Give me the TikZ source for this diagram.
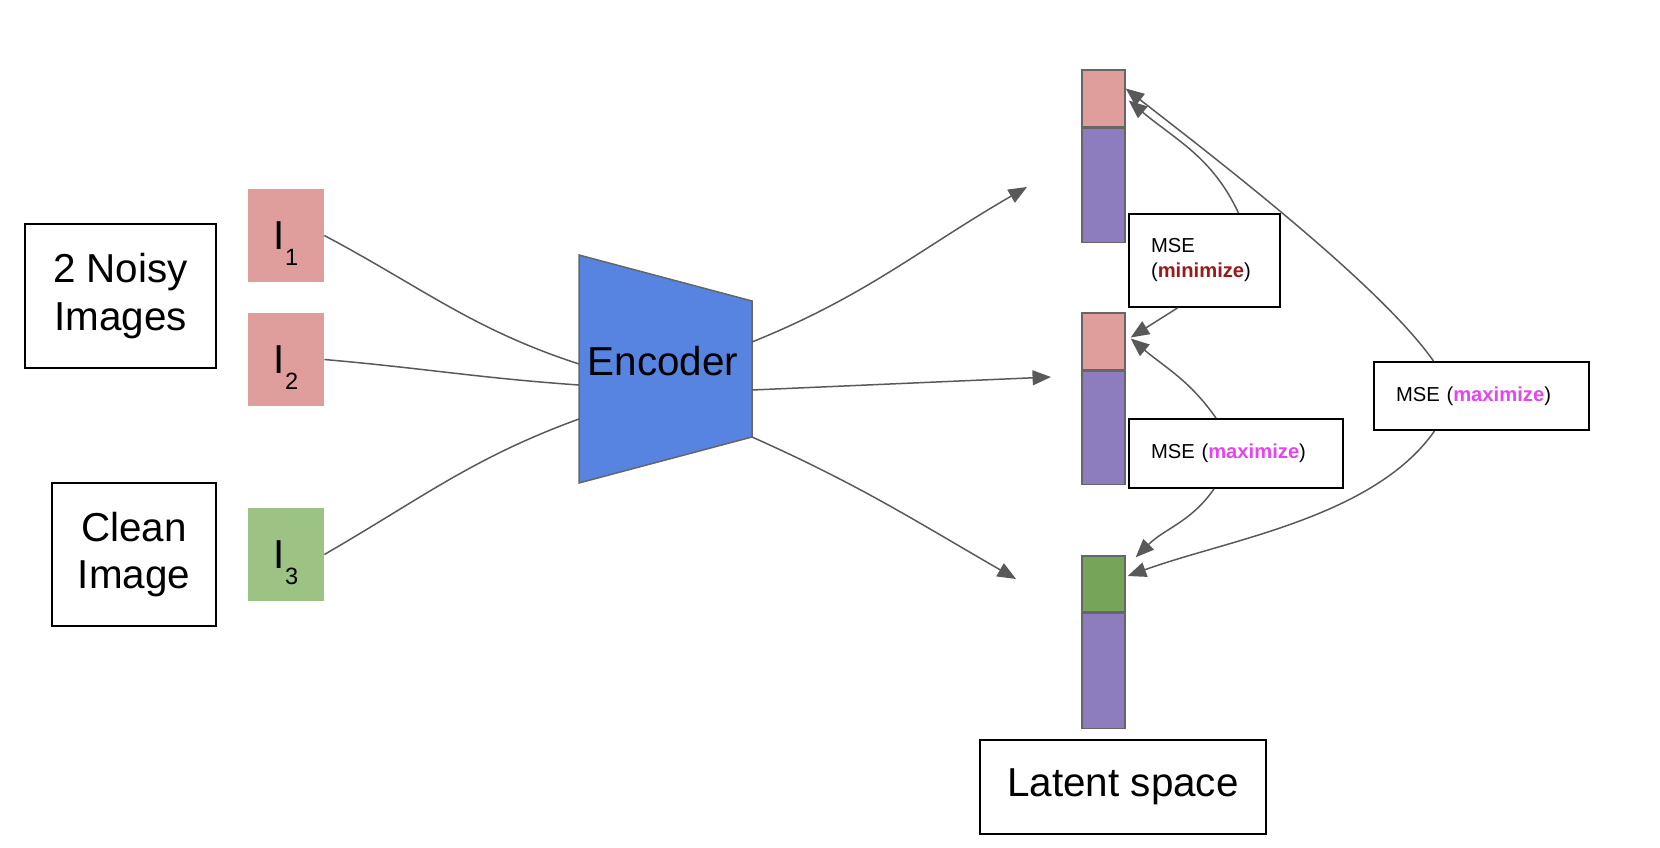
\documentclass[tikz,border=0pt]{standalone}
\usepackage{fontspec}
\setmainfont{Liberation Sans}
\usepackage{xcolor}
\usetikzlibrary{positioning, arrows.meta, calc}

\definecolor{imgred}{HTML}{DF9D9B}
\definecolor{imggreen}{HTML}{9DC384}
\definecolor{vecgreen}{HTML}{76A559}
\definecolor{vecpurple}{HTML}{8E7DBE}
\definecolor{encblue}{HTML}{5684E0}
\definecolor{linegray}{HTML}{595959}
\definecolor{bordergray}{HTML}{666666}
\definecolor{minred}{HTML}{9A1A1A}
\definecolor{maxpink}{HTML}{E644F0}

\begin{document}
\begin{tikzpicture}[
	x=0.02cm, y=-0.02cm,
	bigfont/.style={font=\fontsize{23}{27.2}\selectfont},
	titlebox/.style={draw, line width=1.1pt, align=center, inner sep=0pt, bigfont},
	imgbox/.style={minimum width=1.52cm, minimum height=1.86cm, inner sep=0pt, text height=25pt, text depth=9.6pt, bigfont},
	vecpart/.style={draw=bordergray, line width=0.8pt, minimum width=0.86cm, inner sep=0pt},
	msebox/.style={draw, line width=1.1pt, fill=white, align=left, inner xsep=0.44cm, inner ysep=0pt, font=\fontsize{11.5}{14.2}\selectfont},
	encoder/.style={draw=bordergray, fill=encblue, line width=0.85pt},
	edge/.style={draw=linegray, line width=0.85pt},
	arrowedge/.style={edge, -{Triangle[length=10.5pt, width=8.5pt]}}
	]
	\useasboundingbox (0,0) rectangle (1660,848);
	
	% Define nodes
	\node (noisy) [titlebox, minimum width=3.82cm, minimum height=2.88cm] at (120.5,296) {2 Noisy\\Images};
	\node (clean) [titlebox, minimum width=3.28cm, minimum height=2.86cm] at (134,554.5) {Clean\\Image};
	\node (I1) [imgbox, fill=imgred] at (286,235.5) {I\raisebox{-9.6pt}{\fontsize{13.4}{14}\selectfont 1}};
	\node (I2) [imgbox, fill=imgred] at (286,359.5) {I\raisebox{-9.6pt}{\fontsize{13.4}{14}\selectfont 2}};
	\node (I3) [imgbox, fill=imggreen] at (286,554.5) {I\raisebox{-9.6pt}{\fontsize{13.4}{14}\selectfont 3}};
	
	\draw [encoder] (579,255) -- (752,301) -- (752,437) -- (579,483) -- cycle;
	\node (enc) [bigfont] at (663,361) {Encoder};
	\coordinate (encin1) at (579,364);
	\coordinate (encin2) at (579,385);
	\coordinate (encin3) at (579,419);
	\coordinate (encout1) at (752,342);
	\coordinate (encout2) at (752,390);
	\coordinate (encout3) at (752,437);
	\coordinate (z1) at (1027,187);
	\coordinate (z2) at (1051,377);
	\coordinate (z3) at (1016,579);
	
	\node (v1top) [vecpart, fill=imgred, minimum height=1.14cm] at (1103.5,98.5) {};
	\node (v1bot) [vecpart, fill=vecpurple, minimum height=2.28cm, below=0pt of v1top] {};
	\node (v2top) [vecpart, fill=imgred, minimum height=1.14cm] at (1103.5,341.5) {};
	\node (v2bot) [vecpart, fill=vecpurple, minimum height=2.26cm, below=0pt of v2top] {};
	\node (v3top) [vecpart, fill=vecgreen, minimum height=1.12cm] at (1103.5,584) {};
	\node (v3bot) [vecpart, fill=vecpurple, minimum height=2.3cm, below=0pt of v3top] {};
	\node (latent) [titlebox, minimum width=5.72cm, minimum height=1.88cm] at (1123,787) {Latent space};
	
	\node (mse1) [msebox, text width=2.14cm, minimum height=1.86cm] at (1204.5,260.5) {MSE\\(\textcolor{minred}{\textbf{minimize}})};
	\node (mse2) [msebox, text width=3.4cm, minimum height=1.38cm] at (1236,453.5) {MSE (\textcolor{maxpink}{\textbf{maximize}})};
	\node (mse3) [msebox, text width=3.42cm, minimum height=1.36cm] at (1481.5,396) {MSE (\textcolor{maxpink}{\textbf{maximize}})};
	
	% Draw edges
	\path [edge] (I1.east) to[out=-28, in=162] (encin1);
	\path [edge] (I2.east) to[out=-5, in=176] (encin2);
	\path [edge] (I3.east) to[out=30, in=-160] (encin3);
	\path [arrowedge] (encout1) to[out=22, in=-150] (z1);
	\path [arrowedge] (encout2) -- (z2);
	\path [arrowedge] (encout3) to[out=-24, in=150] (z3);
	
	\path [arrowedge] ($(mse1.north)+(34,0)$) to[out=115, in=-40] ($(v1top.east)+(3,2)$);
	\path [arrowedge] ($(mse1.south)+(-27,0)$) -- ($(v2top.east)+(5,-4)$);
	\path [arrowedge] ($(mse2.north)+(-20,0)$) to[out=125, in=-40] ($(v2top.east)+(5,-3)$);
	\path [arrowedge] ($(mse2.south)+(-22,0)$) to[out=-125, in=45] ($(v3top.north east)+(10,2)$);
	\path [arrowedge] ($(mse3.north)+(-48,0)$) to[out=125, in=-38, looseness=0.6] ($(v1top.east)+(0,-10)$);
	\path [arrowedge] ($(mse3.south)+(-47,0)$) to[out=-125, in=20, looseness=0.8] ($(v3top.east)+(2,-8)$);
	
\end{tikzpicture}
\end{document}
